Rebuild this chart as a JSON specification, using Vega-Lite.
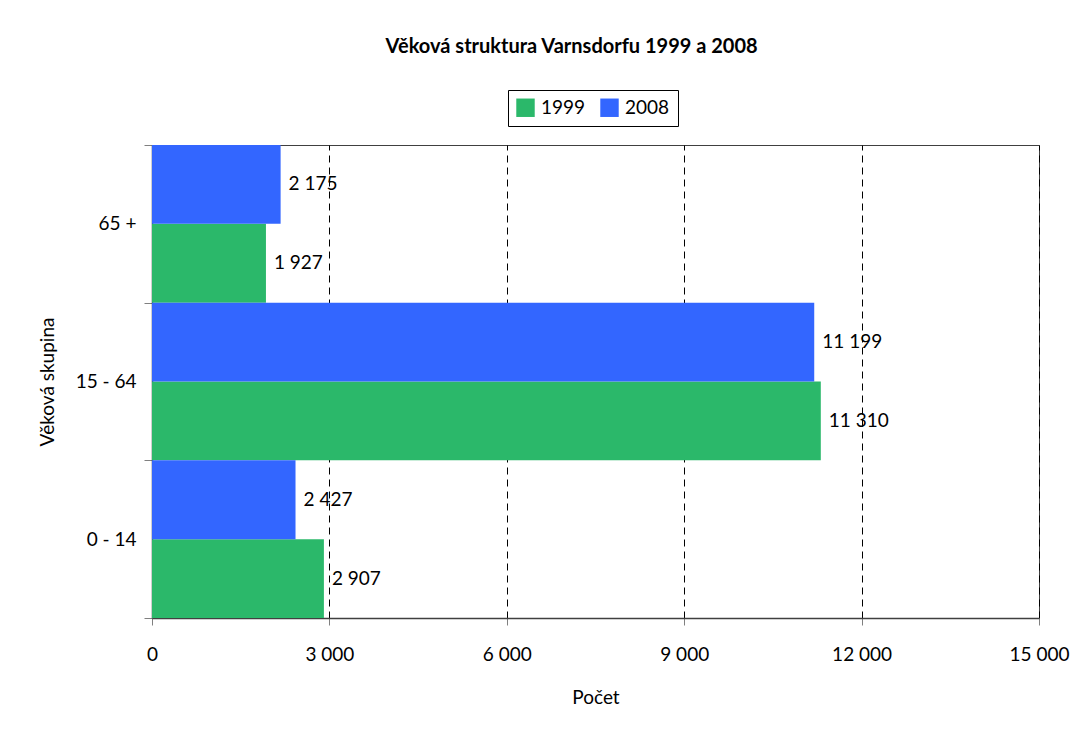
{
  "$schema": "https://vega.github.io/schema/vega-lite/v6.json",
  "width": 887,
  "height": 473,
  "autosize": "none",
  "padding": {"left": 152, "top": 145, "right": 41, "bottom": 111},
  "config": {
    "font": "Lato",
    "locale": {"number": {"decimal": ",", "thousands": " ", "grouping": [3], "currency": ["", " Kč"]}},
    "view": {"stroke": "#404040", "strokeWidth": 1},
    "axis": {"labelFontSize": 19, "titleFontSize": 19, "titleFontWeight": "normal", "labelColor": "#000", "titleColor": "#000", "domainColor": "#404040", "domainWidth": 1.5, "tickColor": "#808080"}
  },
  "title": {"text": "Věková struktura Varnsdorfu 1999 a 2008", "fontSize": 20, "fontWeight": "bold", "anchor": "middle", "frame": "bounds", "offset": 33, "dx": 18, "color": "#000"},
  "data": {"values": [
    {"skupina": "65 +", "rok": "1999", "pocet": 1927},
    {"skupina": "65 +", "rok": "2008", "pocet": 2175},
    {"skupina": "15 - 64", "rok": "1999", "pocet": 11310},
    {"skupina": "15 - 64", "rok": "2008", "pocet": 11199},
    {"skupina": "0 - 14", "rok": "1999", "pocet": 2907},
    {"skupina": "0 - 14", "rok": "2008", "pocet": 2427}
  ]},
  "encoding": {
    "y": {"field": "skupina", "type": "nominal", "sort": ["65 +", "15 - 64", "0 - 14"],
      "scale": {"paddingInner": 0, "paddingOuter": 0},
      "axis": {"title": "Věková skupina", "tickBand": "extent", "tickSize": 8, "labelPadding": 8, "titlePadding": 18}},
    "yOffset": {"field": "rok", "type": "nominal", "sort": ["2008", "1999"], "scale": {"paddingInner": 0, "paddingOuter": 0}},
    "x": {"field": "pocet", "type": "quantitative", "scale": {"domain": [0, 15000], "nice": false},
      "axis": {"title": "Počet", "values": [0, 3000, 6000, 9000, 12000, 15000], "format": ",d", "tickSize": 7, "labelPadding": 20, "titlePadding": 24, "labelFlush": false,
        "grid": true, "gridColor": "#000", "gridDash": [7, 5], "gridWidth": 1}}
  },
  "layer": [
    {"mark": {"type": "bar"},
      "encoding": {"color": {"field": "rok", "type": "nominal",
        "scale": {"domain": ["1999", "2008"], "range": ["#2BB86A", "#3366FF"]},
        "legend": {"title": null, "orient": "none", "legendX": 356, "legendY": -55, "direction": "horizontal",
          "strokeColor": "#000", "padding": 8, "symbolType": "square", "symbolSize": 340, "symbolStrokeWidth": 0, "symbolOpacity": 1,
          "labelFontSize": 19, "labelColor": "#000", "columnPadding": 14, "labelOffset": 6}}}},
    {"mark": {"type": "text", "align": "left", "baseline": "middle", "dx": 8, "fontSize": 19, "color": "#000"},
      "encoding": {"text": {"field": "pocet", "type": "quantitative", "format": ",d"}}}
  ]
}
